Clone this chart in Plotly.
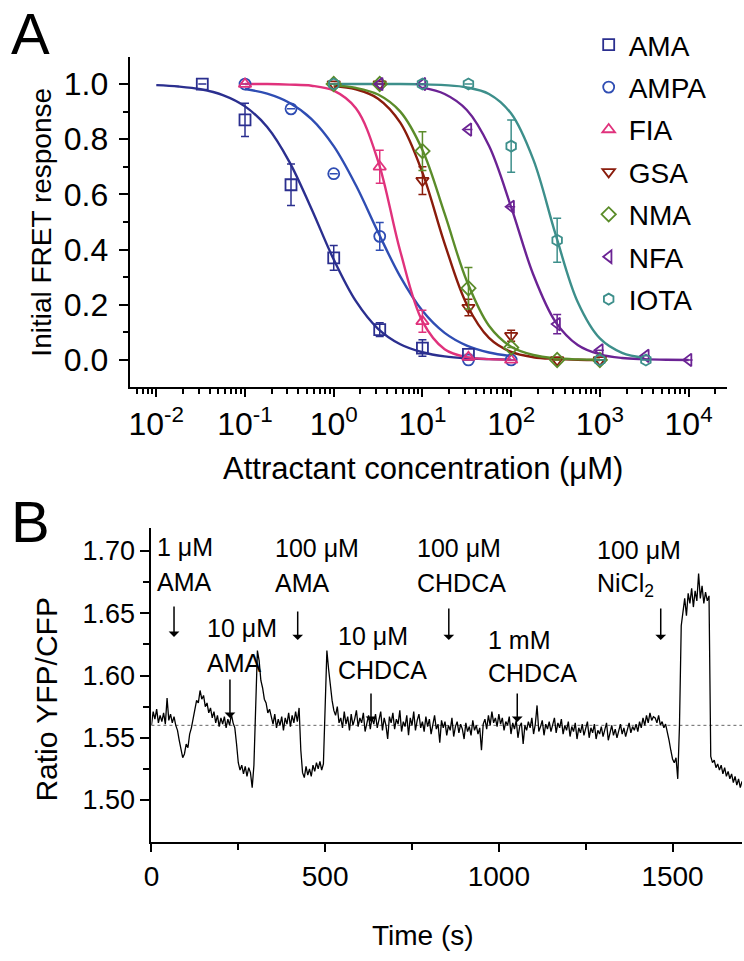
import plotly.graph_objects as go

# ---------------- Panel A : dose-response data ----------------
series_names = ["AMA", "AMPA", "FIA", "GSA", "NMA", "NFA", "IOTA"]
series_colors = ["#2B2F8F", "#2F4DB3", "#E0327C", "#8A1C0C", "#5B8C2A", "#6B2394", "#3D8F8B"]
series_symbols = ["square-open", "circle-open", "triangle-up-open", "triangle-down-open",
                  "diamond-open", "triangle-left-open", "hexagon-open"]

ama_conc = [0.033, 0.1, 0.33, 1, 3.3, 10, 33]
ama_resp = [1.0, 0.87, 0.635, 0.37, 0.11, 0.043, 0.02]
ama_err = [None, 0.06, 0.075, 0.045, 0.025, 0.03, None]

ampa_conc = [0.1, 0.33, 1, 3.3, 33, 100]
ampa_resp = [1.0, 0.91, 0.675, 0.448, 0.0, 0.0]
ampa_err = [None, None, None, 0.05, None, None]

fia_conc = [0.1, 3.3, 10, 33, 100]
fia_resp = [1.0, 0.70, 0.14, 0.01, 0.0]
fia_err = [None, 0.06, 0.04, None, None]

gsa_conc = [1, 3.3, 10, 33, 100, 330, 1000]
gsa_resp = [1.0, 1.0, 0.65, 0.19, 0.088, 0.0, 0.0]
gsa_err = [None, None, 0.05, 0.03, 0.02, None, None]

nma_conc = [1, 3.3, 10, 33, 100, 330, 1000]
nma_resp = [1.0, 1.0, 0.757, 0.26, 0.045, 0.0, 0.0]
nma_err = [None, None, 0.07, 0.075, None, None, None]

nfa_conc = [3.3, 10, 33, 100, 330, 1000, 3300, 10000]
nfa_resp = [1.0, 1.0, 0.835, 0.555, 0.13, 0.035, 0.015, 0.0]
nfa_err = [None, None, None, None, 0.035, None, None, None]

iota_conc = [1, 10, 33, 100, 330, 1000, 3300]
iota_resp = [1.0, 1.0, 1.0, 0.775, 0.434, 0.0, 0.0]
iota_err = [None, None, None, 0.095, 0.08, None, None]

# fitted curves at quarter-decade steps (log10 concentration)
ama_fit_logc = [-2.0, -1.75, -1.5, -1.25, -1.0, -0.75, -0.5, -0.25, 0.0, 0.25, 0.5, 0.75, 1.0, 1.25, 1.5, 1.75, 2.0]
ama_fit = [0.996, 0.991, 0.981, 0.960, 0.919, 0.844, 0.718, 0.547, 0.364, 0.213, 0.113, 0.057, 0.028, 0.013, 0.006, 0.003, 0.001]

ampa_fit_logc = [-1.0, -0.75, -0.5, -0.25, 0.0, 0.25, 0.5, 0.75, 1.0, 1.25, 1.5, 1.75, 2.0]
ampa_fit = [0.982, 0.965, 0.932, 0.873, 0.775, 0.633, 0.463, 0.302, 0.178, 0.098, 0.052, 0.027, 0.014]

fia_fit_logc = [-1.0, -0.75, -0.5, -0.25, 0.0, 0.25, 0.5, 0.75, 1.0, 1.25, 1.5, 1.75, 2.0]
fia_fit = [1.0, 1.0, 0.998, 0.994, 0.976, 0.912, 0.721, 0.394, 0.140, 0.039, 0.010, 0.003, 0.001]

gsa_fit_logc = [0.0, 0.25, 0.5, 0.75, 1.0, 1.25, 1.5, 1.75, 2.0, 2.25, 2.5, 2.75, 3.0]
gsa_fit = [0.993, 0.981, 0.947, 0.860, 0.679, 0.422, 0.201, 0.080, 0.029, 0.010, 0.004, 0.001, 0.0]

nma_fit_logc = [0.0, 0.25, 0.5, 0.75, 1.0, 1.25, 1.5, 1.75, 2.0, 2.25, 2.5, 2.75, 3.0]
nma_fit = [0.995, 0.986, 0.962, 0.900, 0.761, 0.530, 0.286, 0.124, 0.048, 0.018, 0.006, 0.002, 0.001]

nfa_fit_logc = [1.0, 1.25, 1.5, 1.75, 2.0, 2.25, 2.5, 2.75, 3.0, 3.25, 3.5, 3.75, 4.0]
nfa_fit = [0.987, 0.964, 0.906, 0.776, 0.554, 0.309, 0.138, 0.054, 0.020, 0.007, 0.003, 0.001, 0.0]

iota_fit_logc = [0.0, 0.25, 0.5, 0.75, 1.0, 1.25, 1.5, 1.75, 2.0, 2.25, 2.5, 2.75, 3.0, 3.25, 3.5]
iota_fit = [1.0, 1.0, 1.0, 1.0, 0.999, 0.996, 0.988, 0.964, 0.893, 0.726, 0.456, 0.210, 0.078, 0.026, 0.008]

x_tick_vals_a = [0.01, 0.1, 1, 10, 100, 1000, 10000]
x_tick_text_a = ["10<sup>-2</sup>", "10<sup>-1</sup>", "10<sup>0</sup>", "10<sup>1</sup>",
                 "10<sup>2</sup>", "10<sup>3</sup>", "10<sup>4</sup>"]
y_tick_vals_a = [0.0, 0.2, 0.4, 0.6, 0.8, 1.0]
y_tick_text_a = ["0.0", "0.2", "0.4", "0.6", "0.8", "1.0"]

# ---------------- Panel B : time course ----------------
time_step_s = 5
ratio = [
    # 0-70 s
    1.560, 1.571, 1.565, 1.573, 1.562, 1.568, 1.563, 1.570, 1.561, 1.582, 1.564, 1.569, 1.562, 1.567, 1.560,
    # 75-110 s
    1.556, 1.548, 1.540, 1.534, 1.537, 1.545, 1.542, 1.553,
    # 115-145 s
    1.558, 1.566, 1.572, 1.580, 1.578, 1.588, 1.581,
    # 150-240 s
    1.584, 1.575, 1.578, 1.570, 1.574, 1.566, 1.571, 1.562, 1.568, 1.559, 1.566, 1.561, 1.567, 1.558,
    1.565, 1.560, 1.569, 1.562, 1.558,
    # 245-295 s
    1.545, 1.530, 1.524, 1.528, 1.521, 1.527, 1.519, 1.526, 1.522, 1.510, 1.528,
    # 300-340 s
    1.585, 1.620, 1.612, 1.596, 1.590, 1.581, 1.578, 1.570, 1.573,
    # 345-425 s
    1.566, 1.561, 1.569, 1.558, 1.565, 1.560, 1.567, 1.556, 1.566, 1.561, 1.570, 1.559, 1.568, 1.562,
    1.571, 1.563, 1.574,
    # 430-495 s
    1.540, 1.522, 1.518, 1.527, 1.520, 1.525, 1.519, 1.528, 1.523, 1.530, 1.525, 1.531, 1.524, 1.529,
    # 500-540 s
    1.575, 1.620, 1.605, 1.590, 1.580, 1.572, 1.568, 1.575, 1.562,
    # 545-1445 s
    1.566, 1.558, 1.571, 1.561, 1.567, 1.556, 1.569, 1.560, 1.565, 1.572,
    1.559, 1.566, 1.562, 1.570, 1.555, 1.563, 1.568, 1.557, 1.566, 1.561,
    1.569, 1.558, 1.564, 1.571, 1.556, 1.566, 1.560, 1.549, 1.567, 1.562,
    1.570, 1.557, 1.565, 1.561, 1.572, 1.555, 1.563, 1.559, 1.568, 1.552,
    1.566, 1.560, 1.571, 1.556, 1.564, 1.569, 1.558, 1.563, 1.555, 1.567,
    1.559, 1.565, 1.553, 1.562, 1.568, 1.557, 1.561, 1.546, 1.564, 1.558,
    1.563, 1.552, 1.560, 1.556, 1.566, 1.551, 1.559, 1.563, 1.554, 1.561,
    1.557, 1.549, 1.562, 1.555, 1.559, 1.552, 1.564, 1.556, 1.560, 1.553,
    1.558, 1.540, 1.561, 1.565, 1.557, 1.568, 1.560, 1.571, 1.562, 1.566,
    1.559, 1.569, 1.561, 1.566, 1.556, 1.563, 1.560, 1.567, 1.553, 1.562,
    1.557, 1.564, 1.550, 1.559, 1.562, 1.545, 1.560, 1.556, 1.563, 1.558,
    1.566, 1.553, 1.561, 1.576, 1.555, 1.559, 1.564, 1.552, 1.561, 1.557,
    1.563, 1.555, 1.560, 1.566, 1.554, 1.562, 1.558, 1.565, 1.553, 1.560,
    1.556, 1.563, 1.551, 1.559, 1.555, 1.562, 1.549, 1.558, 1.554, 1.561,
    1.552, 1.557, 1.563, 1.550, 1.558, 1.554, 1.561, 1.549, 1.556, 1.553,
    1.559, 1.551, 1.557, 1.562, 1.548, 1.555, 1.560, 1.552, 1.557, 1.550,
    1.556, 1.561, 1.553, 1.558, 1.551, 1.557, 1.562, 1.554, 1.559, 1.556,
    1.561, 1.555, 1.563, 1.558, 1.566, 1.560, 1.568, 1.562, 1.570, 1.564,
    1.567,
    # 1450-1515 s
    1.566, 1.562, 1.568, 1.560, 1.563, 1.558, 1.561, 1.555, 1.548, 1.540, 1.533, 1.530, 1.534, 1.517,
    # 1520-1605 s
    1.560, 1.640, 1.652, 1.662, 1.648, 1.666, 1.658, 1.670, 1.655, 1.668, 1.660, 1.682, 1.662, 1.672,
    1.658, 1.667, 1.660, 1.664,
    # 1610-1700 s
    1.535, 1.530, 1.532, 1.526, 1.529, 1.524, 1.528, 1.521, 1.526, 1.519, 1.523, 1.517, 1.521, 1.514,
    1.519, 1.512, 1.517, 1.510, 1.515,
]
time_s = [i * time_step_s for i in range(len(ratio))]
baseline_ratio = 1.56

# stimulus annotations
stim_line1 = ["1 μM", "10 μM", "100 μM", "10 μM", "100 μM", "1 mM", "100 μM"]
stim_line2 = ["AMA", "AMA", "AMA", "CHDCA", "CHDCA", "CHDCA", "NiCl<sub>2</sub>"]
stim_text_t = [9, 154, 351, 530, 758, 963, 1276]
stim_text_y1 = [1.7032, 1.6382, 1.7024, 1.6318, 1.7024, 1.6285, 1.7008]
stim_text_y2 = [1.6751, 1.6101, 1.6743, 1.6044, 1.6743, 1.6020, 1.6727]
stim_arrow_t = [65, 226, 421, 632, 856, 1053, 1466]
stim_arrow_top = [1.6567, 1.5980, 1.6526, 1.5868, 1.6550, 1.5868, 1.6550]
stim_arrow_tip = [1.6310, 1.5659, 1.6285, 1.5627, 1.6285, 1.5627, 1.6285]

FONT = "Liberation Sans, Arial, Helvetica, sans-serif"
W, H = 744, 961

fig = go.Figure()

conc_list = [ama_conc, ampa_conc, fia_conc, gsa_conc, nma_conc, nfa_conc, iota_conc]
resp_list = [ama_resp, ampa_resp, fia_resp, gsa_resp, nma_resp, nfa_resp, iota_resp]
err_list = [ama_err, ampa_err, fia_err, gsa_err, nma_err, nfa_err, iota_err]
fitx_list = [ama_fit_logc, ampa_fit_logc, fia_fit_logc, gsa_fit_logc, nma_fit_logc, nfa_fit_logc, iota_fit_logc]
fity_list = [ama_fit, ampa_fit, fia_fit, gsa_fit, nma_fit, nfa_fit, iota_fit]

for name, col, fx, fy in zip(series_names, series_colors, fitx_list, fity_list):
    fig.add_trace(go.Scatter(
        x=[10 ** v for v in fx], y=fy, mode="lines", xaxis="x", yaxis="y",
        line=dict(color=col, width=2.4, shape="spline", smoothing=1.0),
        showlegend=False, hoverinfo="skip"))

for name, col, sym, cx, ry, er in zip(series_names, series_colors, series_symbols, conc_list, resp_list, err_list):
    fig.add_trace(go.Scatter(
        x=cx, y=ry, mode="markers", name=name, xaxis="x", yaxis="y",
        marker=dict(symbol=sym, size=11, color=col, line=dict(color=col, width=1.8)),
        error_y=dict(type="data", array=er, visible=True, color=col, thickness=1.5, width=4),
        legendgroup=name))

fig.add_trace(go.Scatter(
    x=[0, 1700], y=[baseline_ratio, baseline_ratio], mode="lines", xaxis="x2", yaxis="y2",
    line=dict(color="#666666", width=1, dash="dot"), showlegend=False, hoverinfo="skip"))
fig.add_trace(go.Scatter(
    x=time_s, y=ratio, mode="lines", xaxis="x2", yaxis="y2",
    line=dict(color="black", width=1.3), showlegend=False))

axis_common = dict(showline=True, linecolor="black", linewidth=2, ticks="outside",
                   tickcolor="black", tickwidth=2, showgrid=False, zeroline=False, mirror=False)

logmin = [m * 10 ** e for e in range(-3, 5) for m in range(2, 10)]

fig.update_layout(
    width=W, height=H, margin=dict(l=0, r=0, t=0, b=0),
    paper_bgcolor="white", plot_bgcolor="white",
    font=dict(family=FONT, color="black"),
    xaxis=dict(**axis_common, type="log", domain=[123 / W, 727 / W], anchor="y",
               range=[-2.30, 4.435], tickmode="array", tickvals=x_tick_vals_a, ticktext=x_tick_text_a,
               ticklen=8, tickfont=dict(size=32),
               minor=dict(tickmode="array", tickvals=logmin, ticks="outside", ticklen=5,
                          tickwidth=1.5, tickcolor="black")),
    yaxis=dict(**axis_common, domain=[1 - 387 / H, 1 - 57 / H], anchor="x",
               range=[-0.098, 1.098], tickmode="array", tickvals=y_tick_vals_a, ticktext=y_tick_text_a,
               ticklen=9, tickfont=dict(size=32), ticklabelstandoff=4,
               minor=dict(tickmode="array", tickvals=[0.1, 0.3, 0.5, 0.7, 0.9], ticks="outside",
                          ticklen=5, tickwidth=1.5, tickcolor="black")),
    xaxis2=dict(**axis_common, domain=[145 / W, 742 / W], anchor="y2",
                range=[0, 1700], tickmode="array", tickvals=[0, 500, 1000, 1500],
                ticktext=["0", "500", "1000", "1500"], ticklen=8, tickfont=dict(size=28),
                minor=dict(tickmode="array", tickvals=[250, 750, 1250], ticks="outside",
                           ticklen=6, tickwidth=1.5, tickcolor="black")),
    yaxis2=dict(**axis_common, domain=[1 - 842 / H, 1 - 528 / H], anchor="x2",
                range=[1.4663, 1.7185], tickmode="array", tickvals=[1.50, 1.55, 1.60, 1.65, 1.70],
                ticktext=["1.50", "1.55", "1.60", "1.65", "1.70"], ticklen=9, tickfont=dict(size=27),
                minor=dict(tickmode="array", tickvals=[1.525, 1.575, 1.625, 1.675], ticks="outside",
                           ticklen=6, tickwidth=1.5, tickcolor="black")),
    legend=dict(x=587 / W, y=1 - 20 / H, xanchor="left", yanchor="top",
                font=dict(size=28), bgcolor="rgba(0,0,0,0)", tracegroupgap=3,
                itemwidth=30),
    showlegend=True,
)

annotations = [
    dict(text="A", x=2 / W, y=1.0, xref="paper", yref="paper", xanchor="left", yanchor="top",
         showarrow=False, font=dict(size=58), borderpad=0),
    dict(text="B", x=2 / W, y=1 - 521 / H, xref="paper", yref="paper", xanchor="left", yanchor="middle",
         showarrow=False, font=dict(size=58), borderpad=0),
    dict(text="Attractant concentration (μM)", x=420 / W, y=1 - 468 / H, xref="paper", yref="paper",
         xanchor="center", yanchor="middle", showarrow=False, font=dict(size=31)),
    dict(text="Initial FRET response", x=33 / W, y=1 - 222 / H, xref="paper", yref="paper",
         xanchor="center", yanchor="middle", showarrow=False, textangle=-90, font=dict(size=28)),
    dict(text="Time (s)", x=420 / W, y=1 - 935 / H, xref="paper", yref="paper",
         xanchor="center", yanchor="middle", showarrow=False, font=dict(size=28)),
    dict(text="Ratio YFP/CFP", x=38 / W, y=1 - 699 / H, xref="paper", yref="paper",
         xanchor="center", yanchor="middle", showarrow=False, textangle=-90, font=dict(size=30)),
]
for l1, l2, tx, y1, y2, at, atop, atip in zip(stim_line1, stim_line2, stim_text_t, stim_text_y1,
                                               stim_text_y2, stim_arrow_t, stim_arrow_top, stim_arrow_tip):
    annotations.append(dict(text=l1, x=tx, y=y1, xref="x2", yref="y2", xanchor="left", yanchor="middle",
                            showarrow=False, font=dict(size=25)))
    annotations.append(dict(text=l2, x=tx, y=y2, xref="x2", yref="y2", xanchor="left", yanchor="middle",
                            showarrow=False, font=dict(size=25)))
    annotations.append(dict(text="", x=at, y=atip, ax=at, ay=atop, xref="x2", yref="y2",
                            axref="x2", ayref="y2", showarrow=True, arrowhead=1, arrowsize=1.2,
                            arrowwidth=1.5, arrowcolor="black"))
fig.update_layout(annotations=annotations)

fig.write_html("out.html", config={"displayModeBar": False},
               post_script="document.body.style.margin='0';document.body.style.padding='0';"
                           "document.body.style.overflow='hidden';")
